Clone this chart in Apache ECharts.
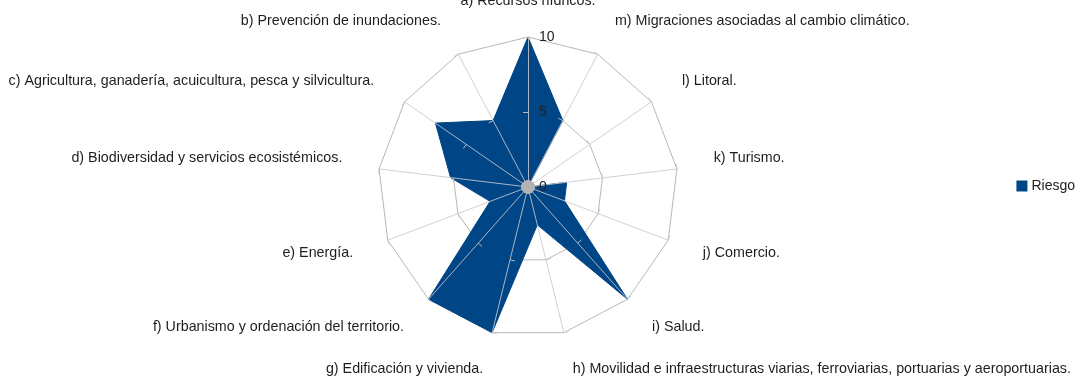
<!DOCTYPE html>
<html>
<head>
<meta charset="utf-8">
<script src="https://cdn.jsdelivr.net/npm/echarts@6/dist/echarts.min.js"></script>
<style>
html,body{margin:0;padding:0;background:#fff;}
#chart{width:1076px;height:376px;}
</style>
</head>
<body>
<div id="chart"></div>
<script>
var categories = [
  'a) Recursos hídricos.',
  'b) Prevención de inundaciones.',
  'c) Agricultura, ganadería, acuicultura, pesca y silvicultura.',
  'd) Biodiversidad y servicios ecosistémicos.',
  'e) Energía.',
  'f) Urbanismo y ordenación del territorio.',
  'g) Edificación y vivienda.',
  'h) Movilidad e infraestructuras viarias, ferroviarias, portuarias y aeroportuarias.',
  'i) Salud.',
  'j) Comercio.',
  'k) Turismo.',
  'l) Litoral.',
  'm) Migraciones asociadas al cambio climático.'
];
var seriesName = 'Riesgo';
var riesgo = [10, 5, 7.5, 5.2, 2.7, 10, 10, 2.6, 10, 2.6, 2.6, 0, 5];
var axisMax = 10;

var font = 'Liberation Sans, Arial, sans-serif';
var raised = { 3: true, 10: true };
var indicators = categories.map(function (c, i) {
  var ind = { name: c, max: axisMax, min: 0 };
  if (i === 0) {
    ind.nameGap = 29;
    ind.axisLabel = { show: true };
  }
  return ind;
});
var indicatorsBack = categories.map(function (c) {
  return { name: c, max: axisMax, min: 0 };
});

var chart = echarts.init(document.getElementById('chart'));
chart.setOption({
  animation: false,
  backgroundColor: '#ffffff',
  legend: {
    data: [seriesName],
    right: 1,
    top: 179,
    padding: 0,
    icon: 'rect',
    itemWidth: 11,
    itemHeight: 11,
    itemGap: 4,
    textStyle: { fontFamily: font, fontSize: 14, color: '#222', padding: [0, 0, 0, -1] }
  },
  radar: [
    {
      center: [528, 187],
      radius: 150,
      shape: 'polygon',
      splitNumber: 2,
      startAngle: 90,
      indicator: indicatorsBack,
      axisName: { show: false },
      axisLine: { show: false },
      axisTick: { show: false },
      axisLabel: { show: false },
      splitLine: { lineStyle: { color: '#b8b8b8', width: 1 } },
      splitArea: { show: false },
      z: 0
    },
    {
      center: [528, 187],
      radius: 150,
      shape: 'polygon',
      splitNumber: 2,
      startAngle: 90,
      indicator: indicators,
      nameGap: 37,
      axisName: {
        show: true,
        color: '#1e1e1e',
        fontFamily: font,
        fontSize: 14.3,
        formatter: function (name) {
          var idx = categories.indexOf(name);
          return raised[idx] ? '{up|' + name + '}' : name;
        },
        rich: {
          up: { fontFamily: font, fontSize: 14.3, color: '#1e1e1e', padding: [0, 0, 13, 0] }
        }
      },
      axisLine: { show: true, lineStyle: { color: 'rgba(200,200,205,0.85)', width: 1 } },
      axisTick: { show: true, length: 5, lineStyle: { color: 'rgba(200,200,205,0.9)' } },
      axisLabel: {
        show: false,
        color: '#222',
        fontFamily: font,
        fontSize: 14,
        margin: -11,
        align: 'left'
      },
      splitLine: { show: false },
      splitArea: { show: false },
      z: 5
    }
  ],
  series: [
    {
      name: seriesName,
      type: 'radar',
      radarIndex: 0,
      symbol: 'none',
      z: 2,
      lineStyle: { color: '#004586', width: 1 },
      areaStyle: { color: '#004586', opacity: 1 },
      itemStyle: { color: '#004586' },
      data: [{ value: riesgo, name: seriesName }]
    },
    {
      name: 'centro',
      type: 'radar',
      radarIndex: 1,
      symbol: 'circle',
      symbolSize: 13,
      z: 10,
      silent: true,
      lineStyle: { width: 0, opacity: 0 },
      itemStyle: { color: '#b3b3b3' },
      data: [{ value: riesgo.map(function () { return 0; }), name: 'centro' }]
    }
  ]
});
</script>
</body>
</html>
